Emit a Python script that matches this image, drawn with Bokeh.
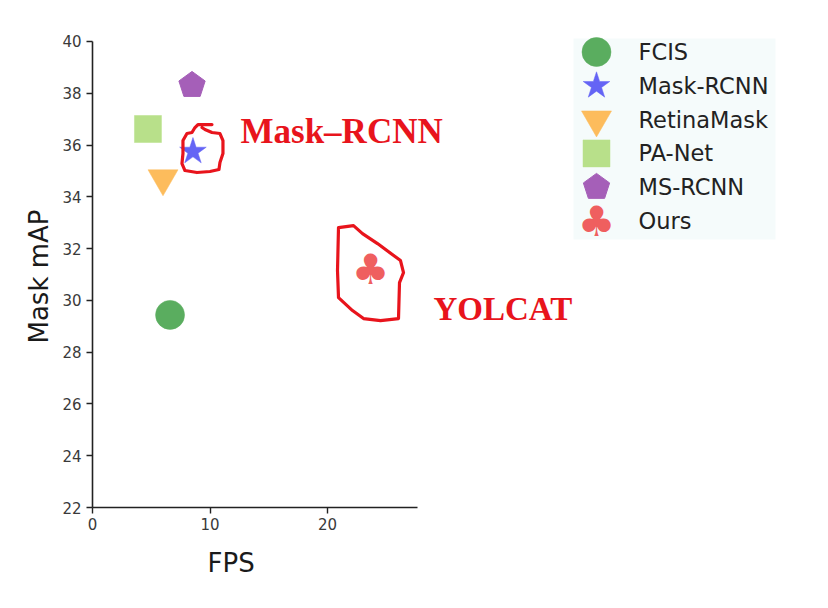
import math
from bokeh.plotting import figure
from bokeh.models import Range1d, FixedTicker, Label, ColumnDataSource, Title
from bokeh.core.properties import value
from bokeh.embed import file_html
from bokeh.resources import INLINE

# ---------------- data ----------------
methods = ["FCIS", "Mask-RCNN", "RetinaMask", "PA-Net", "MS-RCNN", "Ours"]
fps = [6.6, 8.55, 6.0, 4.72, 8.47, 23.66]
mask_map = [29.44, 35.75, 34.71, 36.62, 38.31, 31.19]
x_ticks = [0, 10, 20]
y_ticks = [22, 24, 26, 28, 30, 32, 34, 36, 38, 40]
x_axis_end = 27.66
callouts = ["Mask\u2013RCNN", "YOLCAT"]
x_title, y_title = "FPS", "Mask mAP"

# ---------------- styles ----------------
colors = ["#5aad5f", "#6464f5", "#fdbc5c", "#b8e08a", "#a55fb8", "#ef5f5f"]
markers = ["circle", "star", "inverted_triangle", "square", "pentagon", "club"]
marker_sizes = [29, 28, 30, 27, 13.8, 42]
RED = "#e8141c"
FONT = "DejaVu Sans"

# frame geometry (pixels)
FRAME_W, FRAME_H = 724, 491
PX_X = 11.75      # pixels per FPS unit
PX_Y = 25.889     # pixels per mAP unit
PAGE_LEFT, PAGE_TOP, PAGE_BOTTOM = 92, 16, 507

p = figure(frame_width=FRAME_W, frame_height=FRAME_H,
           min_border_left=92, min_border_top=16, min_border_bottom=85, min_border_right=4,
           x_range=Range1d(0, FRAME_W / PX_X), y_range=Range1d(22, 22 + FRAME_H / PX_Y),
           output_backend="svg", toolbar_location=None, tools="")
# page-pixel helper ranges for annotation layout
p.extra_x_ranges = {"px": Range1d(PAGE_LEFT, PAGE_LEFT + FRAME_W)}
p.extra_y_ranges = {"px": Range1d(PAGE_BOTTOM, PAGE_TOP)}

p.background_fill_color = "white"
p.border_fill_color = "white"
p.outline_line_color = None
p.xgrid.visible = False
p.ygrid.visible = False

for ax, ticks, bounds in ((p.xaxis[0], x_ticks, (0, x_axis_end)), (p.yaxis[0], y_ticks, (22, 40))):
    ax.ticker = FixedTicker(ticks=ticks)
    ax.bounds = bounds
    ax.axis_line_color = "#222222"
    ax.axis_line_width = 1.6
    ax.major_tick_line_color = "#222222"
    ax.major_tick_line_width = 1.4
    ax.major_tick_out = 6
    ax.major_tick_in = 0
    ax.minor_tick_line_color = None
    ax.major_label_text_font = FONT
    ax.major_label_text_font_size = "15px"
    ax.major_label_text_color = "#3a3a3a"
p.xaxis.major_label_standoff = 4
p.yaxis.major_label_standoff = 5

# ---------------- axis titles (side-panel titles) ----------------
p.add_layout(Title(text=x_title, align="left", offset=115, standoff=26,
                   text_font=FONT, text_font_size="26px", text_font_style="normal",
                   text_color="#1a1a1a"), "below")
p.add_layout(Title(text=y_title, align="left", offset=164, standoff=12,
                   text_font=FONT, text_font_size="26px", text_font_style="normal",
                   text_color="#1a1a1a"), "left")

# ---------------- legend background ----------------
p.quad(left=[573], right=[775], top=[38], bottom=[239], fill_color="#f5fbfb",
       line_color=None, x_range_name="px", y_range_name="px")

# ---------------- data marks ----------------
std = [i for i, m in enumerate(markers) if m not in ("pentagon", "club")]
src = ColumnDataSource(dict(
    x=[fps[i] for i in std], y=[mask_map[i] for i in std],
    marker=[markers[i] for i in std], color=[colors[i] for i in std],
    size=[marker_sizes[i] for i in std]))
p.scatter("x", "y", marker="marker", size="size", fill_color="color",
          line_color="color", line_width=0.5, source=src)


def pentagon(cx, cy, r, sx, sy):
    xs, ys = [], []
    for k in range(5):
        t = math.pi / 2 + k * 2 * math.pi / 5
        xs.append(cx + r * math.cos(t) / sx)
        ys.append(cy + r * math.sin(t) / sy)
    return xs, ys


for i, m in enumerate(markers):
    if m == "pentagon":
        xs, ys = pentagon(fps[i], mask_map[i], marker_sizes[i], PX_X, PX_Y)
        p.patch(xs, ys, fill_color=colors[i], line_color=colors[i])
    elif m == "club":
        p.text(x=[fps[i]], y=[mask_map[i]], text=["\u2663"], text_color=colors[i],
               text_font=value(FONT), text_font_size=f"{marker_sizes[i]}px",
               text_align="center", text_baseline="middle")

# ---------------- legend (page-pixel layout) ----------------
LEG_MX, LEG_TX, LEG_Y0, LEG_DY = 596, 638, 51.5, 33.8
for i, name in enumerate(methods):
    cy = LEG_Y0 + i * LEG_DY
    m = markers[i]
    if m == "pentagon":
        xs, ys = pentagon(LEG_MX, cy, marker_sizes[i], 1, -1)
        p.patch(xs, ys, fill_color=colors[i], line_color=colors[i],
                x_range_name="px", y_range_name="px")
    elif m == "club":
        p.text(x=[LEG_MX], y=[cy], text=["\u2663"], text_color=colors[i],
               text_font=value(FONT), text_font_size=f"{marker_sizes[i]}px",
               text_align="center", text_baseline="middle",
               x_range_name="px", y_range_name="px")
    else:
        p.scatter(x=[LEG_MX], y=[cy], marker=m, size=marker_sizes[i],
                  fill_color=colors[i], line_color=colors[i], line_width=0.5,
                  x_range_name="px", y_range_name="px")
    p.text(x=[LEG_TX], y=[cy], text=[name], text_color="#222222",
           text_font=value(FONT), text_font_size="22.5px",
           text_align="left", text_baseline="middle",
           x_range_name="px", y_range_name="px")

# ---------------- hand-drawn red outlines (pixel offsets around points) ----------------
outline_offsets = {
    "Mask-RCNN": [(19, -27), (5, -27), (2, -24), (-1, -19), (-6, -18), (-10, -11),
                  (-10, 2), (-11, 12), (-8, 19), (4, 21), (17, 20), (26, 18),
                  (27, 11), (30, 2), (30, -11), (27, -18), (19, -19), (12, -22), (9, -24)],
    "Ours": [(-32, -42), (-17, -44), (-8, -36), (7, -26), (30, -9), (33, 3), (29, 13),
             (28, 49), (10, 51), (-7, 49), (-18, 41), (-32, 28), (-33, 1), (-32, -42)],
}
for name, offs in outline_offsets.items():
    i = methods.index(name)
    xs = [fps[i] + dx / PX_X for dx, dy in offs]
    ys = [mask_map[i] - dy / PX_Y for dx, dy in offs]
    p.line(xs, ys, line_color=RED, line_width=3.2, line_join="round", line_cap="round")

# ---------------- callout texts ----------------
callout_pos = [(240, 131), (433, 308)]
callout_sizes = ["35px", "33px"]
for txt, (lx, ly), fs in zip(callouts, callout_pos, callout_sizes):
    p.add_layout(Label(x=lx, y=ly, text=txt, x_range_name="px", y_range_name="px",
                       text_font="Liberation Serif", text_font_style="bold",
                       text_font_size=fs, text_color=RED, text_baseline="middle"))

open("out.html", "w").write(file_html(p, INLINE))
